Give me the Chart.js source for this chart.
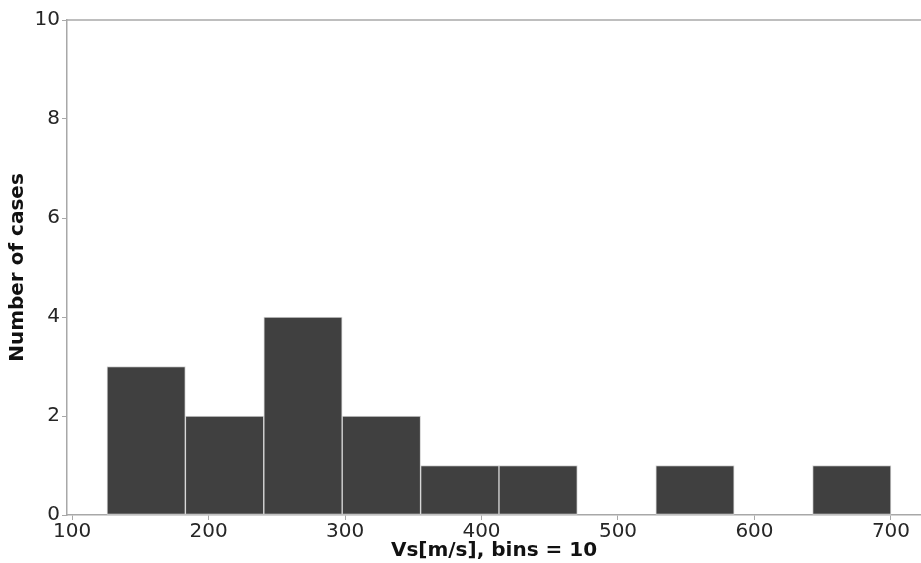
<!DOCTYPE html>
<html>
<head>
<meta charset="utf-8">
<script src="https://cdn.jsdelivr.net/npm/chart.js@4.4.1/dist/chart.umd.min.js"></script>
<style>
  html, body { margin: 0; padding: 0; background: #fff; }
  #wrap { width: 921px; height: 563px; }
</style>
</head>
<body>
<div id="wrap"><canvas id="myChart" width="921" height="563"></canvas></div>
<script>
// histogram of Vs, 10 bins
var binEdges = [125.6, 183.0, 240.5, 297.9, 355.4, 412.8, 470.2, 527.7, 585.1, 642.6, 700.0];
var counts = [3, 2, 4, 2, 1, 1, 0, 1, 0, 1];
var xTicks = [100, 200, 300, 400, 500, 600, 700];
var yTicks = [0, 2, 4, 6, 8, 10];

var points = [];
for (var i = 0; i < counts.length; i++) {
    points.push({ x: (binEdges[i] + binEdges[i + 1]) / 2, y: counts[i] });
}

var axisGray = '#a8a8a8';
var textColor = '#262626';
var font = 'DejaVu Sans';

// top spine
var topLine = {
    id: 'topLine',
    afterDraw: function (chart) {
        var ctx = chart.ctx, a = chart.chartArea;
        ctx.save();
        ctx.strokeStyle = axisGray;
        ctx.lineWidth = 1.5;
        ctx.beginPath();
        ctx.moveTo(a.left, a.top);
        ctx.lineTo(a.right, a.top);
        ctx.stroke();
        ctx.restore();
    }
};

new Chart("myChart", {
    type: "bar",
    data: {
        datasets: [{
            data: points,
            backgroundColor: '#404040',
            borderColor: '#d4d4d4',
            borderWidth: 1,
            borderSkipped: false,
            barPercentage: 1.0,
            categoryPercentage: 1.0
        }]
    },
    plugins: [topLine],
    options: {
        responsive: false,
        animation: false,
        layout: { padding: { top: 20, right: 0, left: 0, bottom: 0 } },
        plugins: {
            legend: { display: false },
            tooltip: { enabled: false }
        },
        scales: {
            x: {
                type: 'linear',
                offset: false,
                min: 96.3,
                max: 722,
                afterBuildTicks: function (scale) {
                    scale.ticks = xTicks.map(function (v) { return { value: v }; });
                },
                afterFit: function (scale) { scale.height = 48; },
                grid: { offset: false, drawOnChartArea: false, drawTicks: true, tickLength: 5, color: axisGray, tickWidth: 1 },
                border: { display: true, color: axisGray, width: 1.5 },
                ticks: {
                    autoSkip: false,
                    maxRotation: 0,
                    padding: 0,
                    color: textColor,
                    font: { family: font, size: 20 }
                },
                title: {
                    display: true,
                    text: 'Vs[m/s], bins = 10',
                    color: '#111',
                    padding: { top: 0, bottom: 0 },
                    font: { family: font, size: 20, weight: 'bold' }
                }
            },
            y: {
                min: 0,
                max: 10,
                afterBuildTicks: function (scale) {
                    scale.ticks = yTicks.map(function (v) { return { value: v }; });
                },
                afterFit: function (scale) { scale.width = 67; },
                grid: { drawOnChartArea: false, drawTicks: true, tickLength: 5, color: axisGray, tickWidth: 1 },
                border: { display: true, color: axisGray, width: 1.5 },
                ticks: {
                    padding: 2,
                    color: textColor,
                    font: { family: font, size: 20 }
                },
                title: {
                    display: true,
                    text: 'Number of cases',
                    color: '#111',
                    padding: { top: 6, bottom: 0 },
                    font: { family: font, size: 20, weight: 'bold' }
                }
            }
        }
    }
});
</script>
</body>
</html>
